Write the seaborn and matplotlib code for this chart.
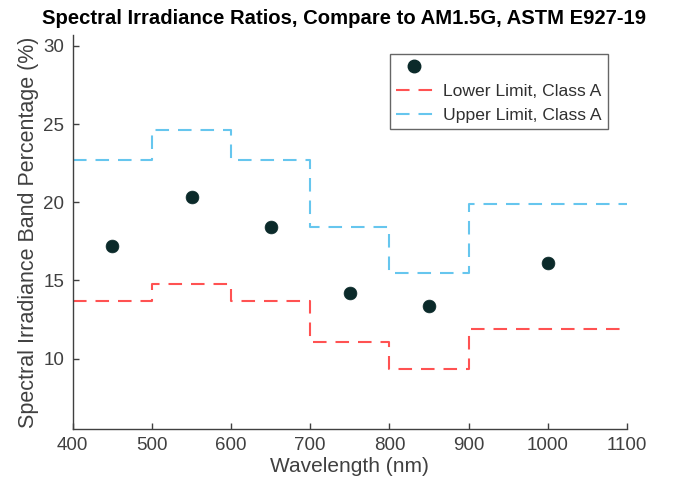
import matplotlib
matplotlib.use("Agg")
import matplotlib.pyplot as plt
import seaborn as sns
import pandas as pd
from matplotlib.lines import Line2D

# Data
band_centers = [450, 550, 650, 750, 850, 1000]
band_percent = [17.2, 20.35, 18.45, 14.2, 13.35, 16.15]
band_edges = [400, 500, 600, 700, 800, 900, 1100]
lower_limit = [13.7, 14.8, 13.7, 11.1, 9.35, 11.9]
upper_limit = [22.7, 24.65, 22.7, 18.45, 15.5, 19.9]

sns.set_theme(style="white")
plt.rcParams['font.family'] = ['Liberation Sans', 'DejaVu Sans']

pts = pd.DataFrame({"x": band_centers, "y": band_percent})
lim = pd.DataFrame({
    "x": band_edges,
    "lower": lower_limit + [lower_limit[-1]],
    "upper": upper_limit + [upper_limit[-1]],
})

fig = plt.figure(figsize=(6.74, 4.91), dpi=100)
ax = fig.add_axes([0.108, 0.126, 0.822, 0.803])

red = "#ff5252"
blue = "#66c6ee"
dark = "#0b2a2a"
dash = (0, (6.5, 4.3))
lw = 1.5

sns.lineplot(data=lim, x="x", y="lower", ax=ax, color=red, lw=lw,
             drawstyle="steps-post", dashes=False, linestyle=dash)
sns.lineplot(data=lim, x="x", y="upper", ax=ax, color=blue, lw=lw,
             drawstyle="steps-post", dashes=False, linestyle=dash)
sns.scatterplot(data=pts, x="x", y="y", ax=ax, color=dark, s=85,
                edgecolor=dark, linewidth=0.5, zorder=3)

ax.set_xlim(400, 1100)
ax.set_ylim(5.5, 30.7)
ax.set_xticks([400, 500, 600, 700, 800, 900, 1000, 1100])
ax.set_yticks([10, 15, 20, 25, 30])

for s in ["top", "right"]:
    ax.spines[s].set_visible(False)
for s in ["left", "bottom"]:
    ax.spines[s].set_color("#404040")
    ax.spines[s].set_linewidth(1.0)

ax.tick_params(direction="in", length=4, width=1, colors="#404040",
               labelsize=13.5, labelcolor="#404040", bottom=True, left=True, pad=6)

ax.set_xlabel("Wavelength (nm)", fontsize=15, color="#404040", labelpad=2)
ax.set_ylabel("Spectral Irradiance Band Percentage (%)", fontsize=15.5,
              color="#404040", labelpad=3)
ax.set_title("Spectral Irradiance Ratios, Compare to AM1.5G, ASTM E927-19",
             fontsize=14.6, fontweight="bold", color="black", pad=8, x=0.49)

handles = [
    Line2D([], [], marker="o", linestyle="none", color=dark, markersize=9),
    Line2D([], [], color=red, lw=lw, linestyle=dash),
    Line2D([], [], color=blue, lw=lw, linestyle=dash),
]
labels = [" ", "Lower Limit, Class A", "Upper Limit, Class A"]
leg = ax.legend(handles, labels, loc="upper left",
                bbox_to_anchor=(0.572, 0.952), fontsize=12.6,
                frameon=True, fancybox=False, edgecolor="#404040",
                handlelength=2.1, labelspacing=0.5, borderpad=0.35,
                borderaxespad=0, handletextpad=0.6, labelcolor="#303030")
leg.get_frame().set_linewidth(1.0)

fig.savefig("out.png", dpi=100)
